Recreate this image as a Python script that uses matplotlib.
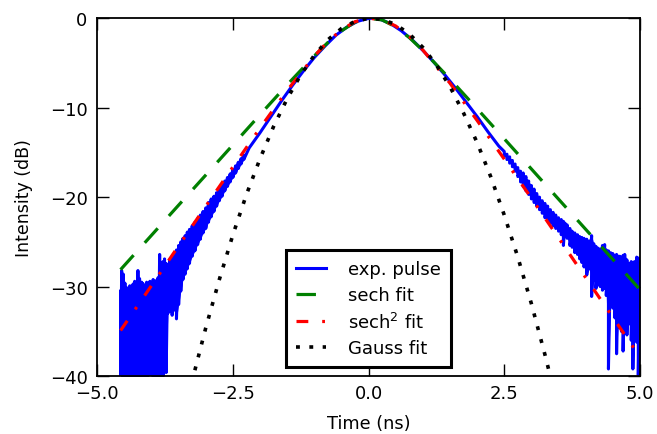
import numpy as np
import matplotlib
matplotlib.use("Agg")
import matplotlib.pyplot as plt

# measured pulse: noisy tails given as upper/lower extent, smooth middle
left_t = [-4.57, -4.55, -4.52, -4.49, -4.46, -4.43, -4.40, -4.37, -4.34, -4.31,
          -4.28, -4.25, -4.22, -4.20, -4.18, -4.15, -4.12, -4.09, -4.06, -4.03,
          -4.00, -3.97, -3.94, -3.91, -3.88, -3.85, -3.82, -3.79, -3.76, -3.73,
          -3.70, -3.66, -3.62, -3.58, -3.54, -3.50, -3.46, -3.42, -3.38, -3.34,
          -3.30, -3.25, -3.20, -3.15, -3.10, -3.05, -3.00, -2.95, -2.90, -2.85,
          -2.80, -2.75, -2.70, -2.65, -2.60, -2.55, -2.50, -2.45, -2.40, -2.35, -2.30]
left_hi = [-30.5, -28.2, -28.6, -29.6, -30.1, -30.3, -29.9, -30.2, -29.7, -29.4,
           -29.8, -28.2, -29.1, -31.8, -29.5, -29.7, -29.9, -29.5, -29.8, -29.4,
           -29.6, -29.2, -29.5, -29.3, -29.0, -26.4, -27.6, -27.2, -26.9, -27.4,
           -27.6, -27.0, -26.9, -26.5, -25.9, -25.4, -25.0, -24.6, -24.3, -23.9,
           -23.6, -23.2, -22.8, -22.4, -22.0, -21.6, -21.2, -20.6, -20.2, -19.9,
           -19.5, -19.0, -18.6, -18.2, -17.8, -17.4, -16.9, -16.5, -16.1, -15.7, -15.3]
left_lo = [-41.0, -41.0, -41.0, -41.0, -41.0, -41.0, -41.0, -41.0, -41.0, -41.0,
           -41.0, -41.0, -41.0, -41.0, -41.0, -41.0, -41.0, -41.0, -41.0, -37.9,
           -41.0, -41.0, -41.0, -41.0, -41.0, -41.0, -41.0, -41.0, -39.5, -39.6,
           -33.0, -32.8, -33.2, -32.6, -33.6, -32.0, -30.5, -29.2, -28.6, -28.0,
           -27.4, -26.6, -26.0, -25.3, -24.7, -24.0, -23.5, -22.8, -22.2, -21.6,
           -21.0, -20.4, -19.9, -19.3, -18.8, -18.3, -17.8, -17.3, -16.8, -16.3, -15.8]

mid_t = [-2.2, -2.0, -1.8, -1.6, -1.4, -1.2, -1.0, -0.8, -0.6, -0.4, -0.2, 0.0,
         0.1, 0.2, 0.4, 0.6, 0.8, 1.0, 1.2, 1.4, 1.6, 1.8, 2.0, 2.2, 2.4]
mid_db = [-14.5, -12.8, -11.0, -9.2, -7.5, -5.9, -4.4, -3.1, -1.9, -1.0, -0.35, -0.03,
          0.0, -0.1, -0.6, -1.4, -2.4, -3.6, -4.9, -6.3, -7.8, -9.4, -11.0, -12.7, -14.3]

right_t = [2.50, 2.55, 2.60, 2.65, 2.70, 2.75, 2.80, 2.85, 2.90, 2.95,
           3.00, 3.05, 3.10, 3.15, 3.20, 3.25, 3.30, 3.35, 3.40, 3.45,
           3.50, 3.55, 3.59, 3.62, 3.66, 3.71, 3.75, 3.80, 3.85, 3.89,
           3.93, 3.97, 4.02, 4.07, 4.11, 4.15, 4.19, 4.23, 4.27, 4.31,
           4.35, 4.38, 4.42, 4.46, 4.50, 4.54, 4.57, 4.60, 4.63, 4.66,
           4.69, 4.72, 4.76, 4.79, 4.81, 4.84, 4.87, 4.90, 4.94, 4.97, 5.00]
right_hi = [-14.9, -15.2, -15.5, -15.9, -16.3, -16.7, -17.1, -17.3, -17.7, -18.2,
            -18.7, -19.1, -19.6, -20.0, -20.4, -20.7, -21.0, -21.4, -21.7, -22.0,
            -22.3, -22.5, -22.7, -22.9, -23.1, -23.5, -23.8, -24.0, -24.2, -24.4,
            -24.5, -24.6, -24.7, -24.9, -24.3, -25.2, -25.5, -25.7, -25.8, -25.4,
            -25.3, -25.9, -26.0, -26.2, -26.3, -26.5, -26.4, -26.6, -26.6, -26.8,
            -26.5, -26.4, -27.0, -27.4, -27.7, -27.2, -27.5, -27.2, -26.7, -26.8, -27.0]
right_lo = [-15.4, -15.8, -16.2, -16.6, -17.1, -17.7, -18.3, -18.8, -19.3, -19.7,
            -20.2, -20.6, -21.0, -21.4, -21.8, -22.3, -22.6, -22.9, -23.2, -23.5,
            -23.8, -24.2, -25.4, -24.4, -24.6, -25.4, -25.6, -26.2, -26.4, -26.9,
            -27.3, -27.8, -28.7, -28.0, -31.1, -29.3, -30.2, -29.8, -30.0, -30.4,
            -30.2, -31.0, -39.2, -32.0, -32.4, -33.5, -37.5, -34.0, -34.6, -35.0,
            -37.2, -34.8, -35.4, -34.2, -33.9, -36.0, -39.2, -35.5, -36.2, -39.9, -38.0]

# fitted curves
fit_t = [-4.57, -4.0, -3.5, -3.0, -2.5, -2.0, -1.5, -1.0, -0.75, -0.5, -0.25, 0.0,
         0.25, 0.5, 0.75, 1.0, 1.5, 2.0, 2.5, 3.0, 3.5, 4.0, 4.5, 5.0]
sech_db = [-28.1, -24.26, -20.89, -17.53, -14.16, -10.79, -7.45, -4.22, -2.72, -1.42, -0.45, -0.01,
           -0.20, -0.98, -2.17, -3.61, -6.80, -10.12, -13.48, -16.85, -20.22, -23.59, -26.95, -30.32]
sech2_db = [-34.9, -29.88, -25.44, -21.01, -16.63, -12.28, -8.08, -4.24, -2.62, -1.30, -0.40, -0.01,
            -0.18, -0.88, -2.05, -3.56, -7.27, -11.43, -15.75, -20.12, -24.55, -28.99, -33.42, -37.85]

gauss_t = [-3.5, -3.25, -3.0, -2.75, -2.5, -2.25, -2.0, -1.75, -1.5, -1.25, -1.0, -0.75, -0.5, -0.25,
           0.0, 0.25, 0.5, 0.75, 1.0, 1.25, 1.5, 1.75, 2.0, 2.25, 2.5, 2.75, 3.0, 3.25, 3.5]
gauss_db = [-46.8, -40.5, -34.6, -29.2, -24.2, -19.7, -15.7, -12.1, -9.0, -6.34, -4.15, -2.42, -1.16, -0.36,
            -0.01, -0.13, -0.72, -1.76, -3.27, -5.23, -7.66, -10.6, -13.9, -17.7, -22.0, -26.7, -31.9, -37.6, -43.7]

# zig-zag between upper and lower extent in the noisy tails
exp_t = np.concatenate([np.repeat(left_t, 2), mid_t, np.repeat(right_t, 2)])
exp_db = np.concatenate([np.column_stack([left_hi, left_lo]).ravel(), mid_db,
                         np.column_stack([right_hi, right_lo]).ravel()])

plt.rcParams['font.size'] = 13
plt.rcParams['lines.scale_dashes'] = False

fig = plt.figure(figsize=(6.57, 4.35), dpi=100)
ax = fig.add_axes([0.148, 0.133, 0.826, 0.823])

ax.fill_between(left_t, left_lo, left_hi, color='blue', lw=0)
ax.fill_between(right_t, right_lo, right_hi, color='blue', lw=0)
ax.plot(exp_t, exp_db, color='blue', lw=2.2, label='exp. pulse')
ax.plot(fit_t, sech_db, color='green', lw=2.3, dashes=(14, 12), label='sech fit')
ax.plot(fit_t, sech2_db, color='red', lw=2.3, dashes=(8.5, 10, 2, 10), label='sech$^2$ fit')
ax.plot(gauss_t, gauss_db, color='black', lw=2.6, dashes=(2.8, 6.8), label='Gauss fit')

ax.set_xlim(-5, 5)
ax.set_ylim(-40, 0)
ax.set_xticks([-5, -2.5, 0, 2.5, 5])
ax.set_xticklabels(['\u22125.0', '\u22122.5', '0.0', '2.5', '5.0'])
ax.set_yticks([0, -10, -20, -30, -40])
ax.set_xlabel('Time (ns)', fontsize=12.8, labelpad=8)
ax.set_ylabel('Intensity (dB)', fontsize=12.5, labelpad=12)
ax.tick_params(direction='in', top=True, right=True, length=8.5, width=1, labelsize=13)
ax.tick_params(axis='x', pad=6)
ax.tick_params(axis='y', pad=7)
for s in ax.spines.values():
    s.set_linewidth(1.3)

leg = ax.legend(loc='lower center', fancybox=False, framealpha=1, handlelength=1.66,
                handletextpad=1.2, labelspacing=0.42, borderpad=0.55, fontsize=13,
                borderaxespad=0.5)
leg.get_frame().set_edgecolor('black')
leg.get_frame().set_linewidth(2.2)

fig.savefig('out.png', dpi=100)
